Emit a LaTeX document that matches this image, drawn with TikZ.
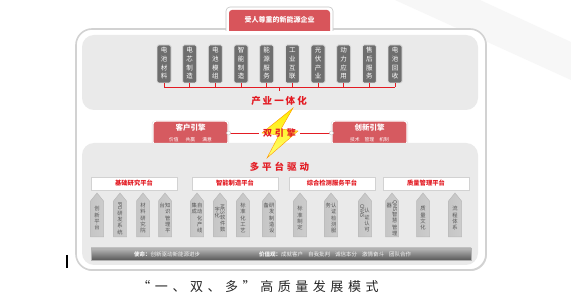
\documentclass[tikz,border=0pt]{standalone}
\usepackage{fontspec}
\usepackage{graphicx}
\setmainfont{Liberation Sans}
\newfontfamily\cjk{Noto Sans CJK SC}
\newfontfamily\capfont[LetterSpace=35]{Noto Sans CJK SC}
\usetikzlibrary{shadows}
\definecolor{brand}{HTML}{E31B23}
\definecolor{rose}{HTML}{D65A60}
\definecolor{panel}{HTML}{EAEAEA}
\definecolor{pilgray}{HTML}{6E6E6E}
\definecolor{pltext}{HTML}{555555}
\newcommand\vt[1]{\begin{tabular}[t]{@{}c@{}}#1\end{tabular}}
\newcommand\rl[1]{\rotatebox[origin=c]{-90}{#1}}
\newcommand\lowpil[3]{%
  \path[lowpilshape] (#2-6.5,237) -- (#2-6.5,201) -- (#2,193) -- (#2+6.5,201) -- (#2+6.5,237) -- cycle;
  \node[lowpiltext] (#1) at (#2,219) {#3};}
\begin{document}
\begin{tikzpicture}[x=1pt,y=-1pt,
  toppil/.style={rectangle, rounded corners=1.5, fill=pilgray, draw=gray!25, line width=0.8,
    minimum width=14, minimum height=38, inner sep=0, text=white,
    font=\cjk\fontsize{6.5}{8.6}\selectfont},
  lowpilshape/.style={draw=gray!55, line width=0.5, shading=axis, shading angle=90,
    left color=gray!45, middle color=white, right color=gray!40},
  lowpiltext/.style={inner sep=0, text=pltext, font=\cjk\fontsize{5.3}{6.3}\selectfont},
  plathead/.style={rectangle, fill=white, draw=gray!35, line width=0.5, minimum width=86,
    minimum height=13, inner sep=0, text=brand, font=\cjk\bfseries\fontsize{6.3}{7}\selectfont,
    drop shadow={shadow xshift=0.6pt, shadow yshift=-0.8pt, opacity=0.35}},
  engine/.style={rectangle, rounded corners=3, fill=rose, draw=white, line width=1.2,
    minimum width=75, minimum height=24, inner sep=0,
    drop shadow={shadow xshift=0pt, shadow yshift=0pt, opacity=0.25, shadow scale=1.03}},
  redtitle/.style={inner sep=0, text=brand, font=\cjk\bfseries\fontsize{9.5}{10}\selectfont},
  knob/.style={circle, fill=white, draw=gray!50, line width=0.4, minimum size=4, inner sep=0},
  link/.style={draw=brand, line width=0.7}]
\useasboundingbox (0,0) rectangle (571,307);
\fill[white] (0,0) rectangle (571,307);
% faint background swoosh
\fill[gray!6] (395,0) -- (480,0) -- (571,42) -- (571,80) -- cycle;
% outer frame
\draw[draw=gray!35, line width=1.6, fill=white, rounded corners=16,
  drop shadow={shadow xshift=0.8pt, shadow yshift=-1pt, opacity=0.3}] (76,29) rectangle (486,270);
% top tab
\draw[fill=white, draw=gray!45, line width=0.6, rounded corners=4] (226,31) -- (226,7) -- (333,7) -- (333,31);
\fill[rose!95!red, rounded corners=3] (229,31) -- (229,10) -- (330,10) -- (330,31);
\node[inner sep=0, text=white, font=\cjk\bfseries\fontsize{7}{8}\selectfont] (goal) at (279.5,20) {受人尊重的新能源企业};
% top panel
\fill[panel, rounded corners=12] (82,35) rectangle (478,110);
% top pillars
\foreach \i/\t in {1/{电\\池\\材\\料},2/{电\\芯\\制\\造},3/{电\\池\\模\\组},4/{智\\能\\制\\造},5/{能\\源\\服\\务},
  6/{工\\业\\互\\联},7/{光\\伏\\产\\业},8/{动\\力\\应\\用},9/{售\\后\\服\\务},10/{电\\池\\回\\收}}{
  \node[toppil] (t\i) at ({164+25.67*(\i-1)},64) {\vt{\t}};
}
\coordinate (bus) at (279,87);
\foreach \i in {1,...,10}{ \draw[link, line width=0.5] (t\i.south) -- (t\i.south |- bus); }
\draw[link, line width=0.5] (t1.south |- bus) -- (t10.south |- bus);
\draw[link, line width=0.5] (bus) -- ++(0,4);
\node[redtitle] (chain) at (279,101) {产\hspace{2pt}业\hspace{2pt}一\hspace{2pt}体\hspace{2pt}化};
% engines
\node[engine] (ke) at (190.5,133) {};
\node[engine] (ie) at (369.5,133) {};
% lower panel
\fill[panel, rounded corners=12] (82,143) rectangle (478,265);
\node[inner sep=0, text=white, font=\cjk\bfseries\fontsize{7.5}{8}\selectfont] (ket) at (190.5,128) {客户引擎};
\node[inner sep=0, text=white, font=\cjk\fontsize{4.8}{5}\selectfont] (kes) at (190.5,139.5) {价值\hspace{7pt}共赢\hspace{7pt}满意};
\node[inner sep=0, text=white, font=\cjk\bfseries\fontsize{7.5}{8}\selectfont] (iet) at (369.5,128) {创新引擎};
\node[inner sep=0, text=white, font=\cjk\fontsize{4.8}{5}\selectfont] (ies) at (369.5,139.5) {技术\hspace{5pt}管理\hspace{5pt}机制};
% lightning
\path[draw=orange!80!yellow, line width=0.4, top color=yellow!85!orange, bottom color=yellow!55!white]
  (293,108) -- (262,133) -- (279,135) -- (267,158) -- (298,131) -- (281,129) -- cycle;
\node[redtitle, font=\cjk\bfseries\fontsize{9}{10}\selectfont] (twin) at (279.5,133) {双\hspace{3pt}引\hspace{3pt}擎};
\draw[link] (ke.east) -- ([xshift=-4pt]twin.west);
\draw[link] (ie.west) -- ([xshift=4pt]twin.east);
\node[knob] (k1) at (ke.east) {};
\node[knob] (k2) at (ie.west) {};
\node[redtitle] (multi) at (279.5,167) {多\hspace{3pt}平\hspace{3pt}台\hspace{3pt}驱\hspace{3pt}动};
% platform headers
\node[plathead] (h1) at (134,183.5) {基础研究平台};
\node[plathead] (h2) at (235,183.5) {智能制造平台};
\node[plathead] (h3) at (332,183.5) {综合检测服务平台};
\node[plathead] (h4) at (426,183.5) {质量管理平台};
% lower pillars
\lowpil{b1}{97}{\vt{创\\新\\平\\台}}
\lowpil{b2}{120}{\vt{\rl{IPD}\\研\\发\\系\\统}}
\lowpil{b3}{143}{\vt{材\\料\\研\\究\\院}}
\lowpil{b4}{165}{\vt{台}\vt{知\\识\\管\\理\\平}}
\lowpil{c1}{197}{\vt{集\\成}\vt{自\\动\\化\\产\\线}}
\lowpil{c2}{220}{\vt{字\\化}\vt{\rl{MES}\\软\\件\\数}}
\lowpil{c3}{243}{\vt{标\\准\\化\\工\\艺}}
\lowpil{c4}{269}{\vt{备}\vt{研\\发\\制\\造\\设}}
\lowpil{d1}{300}{\vt{标\\准\\制\\定}}
\lowpil{d2}{331}{\vt{务}\vt{认\\证\\检\\测\\服}}
\lowpil{d3}{365}{\vt{\rl{CNAS}}\vt{认\\证\\认\\可}}
\lowpil{e1}{392}{\vt{器}\vt{\rl{QMS}\\智\\慧\\管\\理}}
\lowpil{e2}{423}{\vt{质\\量\\文\\化}}
\lowpil{e3}{455}{\vt{流\\程\\体\\系}}
% bottom bar
\node[rectangle, minimum width=380, minimum height=12, inner sep=0, draw=gray!60, line width=0.4,
  top color=gray!55, bottom color=black!65] (bar) at (281,254) {};
\node[inner sep=0, text=white!92!gray, font=\cjk\fontsize{5.5}{6}\selectfont] (mission) at (167,254)
  {{\bfseries 使命：}创新驱动新能源进步};
\node[inner sep=0, text=white!92!gray, font=\cjk\fontsize{5.5}{6}\selectfont] (values) at (335,254)
  {{\bfseries 价值观：}成就客户\hspace{5pt}自我批判\hspace{5pt}诚信本分\hspace{5pt}激情奋斗\hspace{5pt}团队合作};
% stray black mark
\draw[line width=1.8, black] (67,255) -- (67,268);
% caption
\node[inner sep=0, text=black!85, font=\capfont\fontsize{13}{14}\selectfont] (caption) at (258,287)
  {“一、双、多”高质量发展模式};
\end{tikzpicture}
\end{document}
